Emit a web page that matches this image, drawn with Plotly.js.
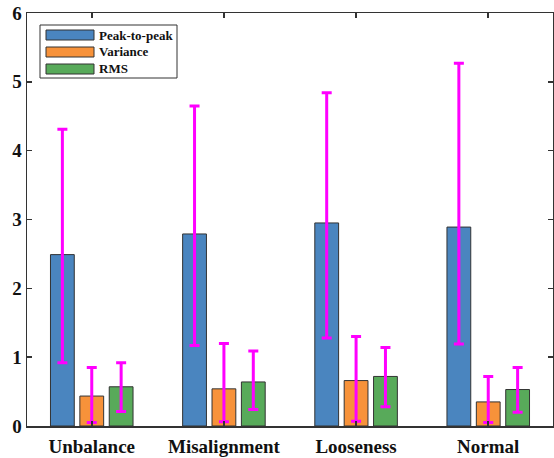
<!DOCTYPE html>
<html>
<head>
<meta charset="utf-8">
<script src="https://cdn.plot.ly/plotly-3.0.1.min.js"></script>
<style>html,body{margin:0;padding:0;background:#fff;}#chart{width:554px;height:458px;}</style>
</head>
<body>
<div id="chart"></div>
<script>
// Data
const categories = ['Unbalance', 'Misalignment', 'Looseness', 'Normal'];
const seriesNames = ['Peak-to-peak', 'Variance', 'RMS'];
const peakToPeak = [2.49, 2.79, 2.95, 2.89];
const peakToPeakHi = [4.31, 4.65, 4.84, 5.27];
const peakToPeakLo = [0.92, 1.17, 1.28, 1.19];
const variance = [0.435, 0.54, 0.66, 0.35];
const varianceHi = [0.85, 1.20, 1.30, 0.72];
const varianceLo = [0.05, 0.06, 0.07, 0.05];
const rms = [0.57, 0.64, 0.72, 0.53];
const rmsHi = [0.92, 1.09, 1.14, 0.85];
const rmsLo = [0.21, 0.24, 0.28, 0.20];
const yTicks = [0, 1, 2, 3, 4, 5, 6];

const colors = ['#4A85BF', '#F7923A', '#58AA5A'];
const means = [peakToPeak, variance, rms];
const his = [peakToPeakHi, varianceHi, rmsHi];
const los = [peakToPeakLo, varianceLo, rmsLo];

const traces = means.map((m, i) => ({
  type: 'bar',
  name: seriesNames[i],
  x: categories,
  y: m,
  marker: {color: colors[i], line: {color: '#333333', width: 1}},
  error_y: {
    type: 'data', symmetric: false,
    array: m.map((v, j) => his[i][j] - v),
    arrayminus: m.map((v, j) => v - los[i][j]),
    color: '#FF00FF', thickness: 3, width: 5
  },
  showlegend: false,
  hoverinfo: 'none'
}));

// plot-area pixel helpers for the hand-drawn legend
const L = 27, T = 13, W = 526, H = 413;
const px = x => (x - L) / W;
const py = y => (T + H - y) / H;

const shapes = [{
  type: 'rect', xref: 'paper', yref: 'paper',
  x0: px(40), x1: px(177), y0: py(78), y1: py(25),
  line: {color: '#333333', width: 1}, fillcolor: '#ffffff', layer: 'above'
}];
const annotations = [];
const rowY = [35, 52, 69];
seriesNames.forEach((n, i) => {
  shapes.push({
    type: 'rect', xref: 'paper', yref: 'paper',
    x0: px(46), x1: px(94), y0: py(rowY[i] + 5), y1: py(rowY[i] - 5),
    line: {color: '#333333', width: 1}, fillcolor: colors[i], layer: 'above'
  });
  annotations.push({
    xref: 'paper', yref: 'paper', x: px(97), y: py(rowY[i]),
    xanchor: 'left', yanchor: 'middle', showarrow: false, text: '<b>' + n + '</b>',
    font: {family: 'Liberation Serif, Times New Roman, serif', size: 13, color: '#111'}
  });
});

const tickFont = {family: 'Liberation Serif, Times New Roman, serif', size: 19, weight: 'bold', color: '#111'};

const layout = {
  width: 554, height: 458,
  margin: {l: L, r: 554 - L - W, t: T, b: 458 - T - H, pad: 0},
  paper_bgcolor: '#ffffff', plot_bgcolor: '#ffffff',
  barmode: 'group', bargap: 0.333, bargroupgap: 0.19,
  font: {family: 'Liberation Serif, Times New Roman, serif', size: 19, color: '#111'},
  xaxis: {
    type: 'category', range: [-0.49, 3.49],
    showline: true, linecolor: '#333333', linewidth: 1.5, mirror: 'ticks',
    ticks: 'inside', ticklen: 5, tickwidth: 1.5, tickcolor: '#333333',
    tickfont: tickFont, ticklabelstandoff: 3,
    showgrid: false, zeroline: false, fixedrange: true
  },
  yaxis: {
    range: [0, 6], tickvals: yTicks, ticktext: yTicks.map(String),
    showline: true, linecolor: '#333333', linewidth: 1.5, mirror: 'ticks',
    ticks: 'inside', ticklen: 5, tickwidth: 1.5, tickcolor: '#333333',
    tickfont: tickFont,
    showgrid: false, zeroline: false, fixedrange: true
  },
  shapes: shapes,
  annotations: annotations,
  showlegend: false
};

Plotly.newPlot('chart', traces, layout, {displayModeBar: false, staticPlot: true});
</script>
</body>
</html>
